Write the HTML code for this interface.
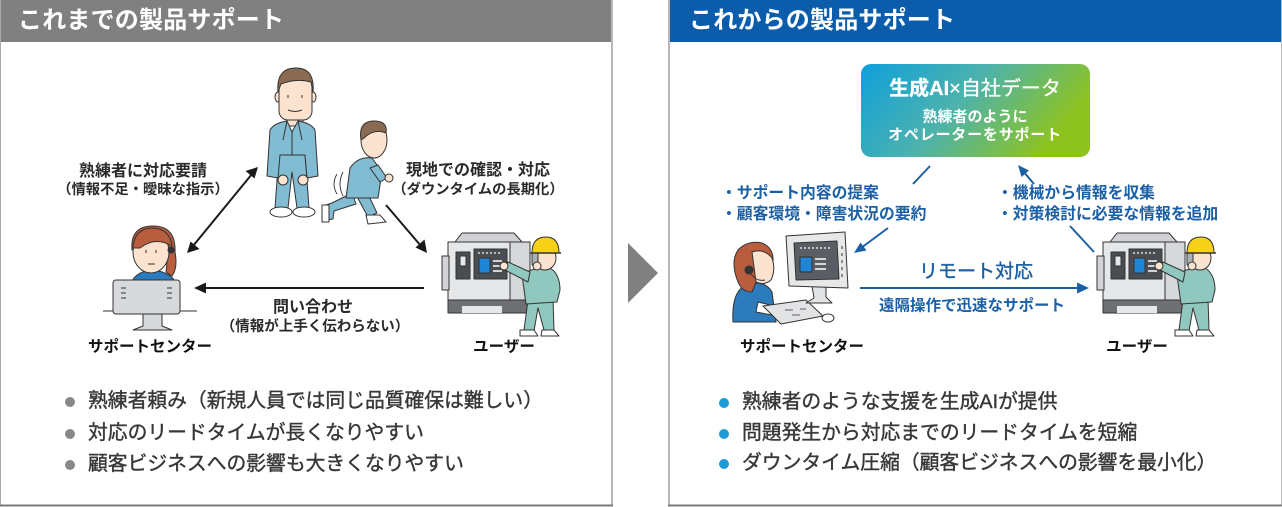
<!DOCTYPE html>
<html><head><meta charset="utf-8">
<style>
html,body{margin:0;padding:0;}
body{width:1282px;height:507px;position:relative;overflow:hidden;background:#fff;font-family:"Liberation Sans","Noto Sans CJK JP",sans-serif;color:#333;}
svg{position:absolute;left:0;top:0;}
.c{position:absolute;white-space:nowrap;transform:translate(-50%,-50%);line-height:1;}
.l{position:absolute;white-space:nowrap;transform:translateY(-50%);line-height:1;}
.hd{position:absolute;top:0;height:42px;color:#fff;font-size:24px;font-weight:bold;line-height:42px;box-sizing:border-box;letter-spacing:0.2px;}
.b{position:absolute;font-size:19.8px;line-height:1;white-space:nowrap;transform:translateY(-50%);color:#383838;-webkit-text-stroke:0.4px #383838;}
.dot{position:absolute;width:10px;height:10px;border-radius:50%;transform:translate(-50%,-50%);}
.k{font-weight:bold;color:#2a2a2a;}
.bl{color:#1b5fa5;font-weight:bold;}
</style></head><body>

<div class="hd" style="left:0;width:611px;background:#808080;padding-left:18px;">これまでの製品サポート</div>
<div class="hd" style="left:670px;width:612px;background:#0b5dab;padding-left:19px;">これからの製品サポート</div>

<svg width="1282" height="507" viewBox="0 0 1282 507">
<defs>
 <linearGradient id="g" x1="0" y1="0" x2="1" y2="0.35">
  <stop offset="0" stop-color="#0ea0dc"/>
  <stop offset="0.5" stop-color="#4cb2ad"/>
  <stop offset="1" stop-color="#8ec31f"/>
 </linearGradient>
 <g id="mw" stroke="#333" stroke-width="1" stroke-linejoin="round">
  <path d="M455 242 L462 233 L514 233 L522 242 Z" fill="#cfd1d4"/>
  <rect x="448" y="242" width="82" height="60" fill="#e6e7e9"/>
  <rect x="510" y="242" width="20" height="60" fill="#d6d8db"/>
  <rect x="442" y="256" width="7" height="34" fill="#d2d4d7"/>
  <rect x="448" y="300" width="82" height="13" fill="#6e7074"/>
  <rect x="462" y="306" width="40" height="7" fill="#e6e7e9" stroke="none"/>
  <rect x="456" y="252" width="14" height="27" fill="#4a4d52"/>
  <rect x="460" y="256" width="6" height="10" fill="#e6e7e9"/>
  <rect x="474" y="249" width="33" height="30" fill="#4a4d52"/>
  <rect x="479" y="258" width="11" height="15" fill="#1e86d4"/>
  <path d="M493 261h9M493 266h9M493 271h9" stroke="#fff" stroke-width="1.5"/>
  <path d="M478 253h24" stroke="#ddd" stroke-width="1.5" stroke-dasharray="2 2"/>
  <path d="M528 300 L524 330 L534 331 L538 308 L544 330 L554 330 L553 298 Z" fill="#90c7be"/>
  <path d="M520 330 h14 l4 6 h-18z M542 330 h12 l5 6 h-18z" fill="#fff"/>
  <path d="M522 275 Q535 266 550 268 Q560 274 560 290 L557 302 L526 304 Z" fill="#90c7be"/>
  <path d="M530 272 L508 262 L505 270 L528 282 Z" fill="#90c7be"/>
  <circle cx="504" cy="266" r="4" fill="#fbe3cf"/>
  <ellipse cx="545" cy="258" rx="11" ry="12" fill="#fbe3cf"/>
  <rect x="532" y="252" width="6" height="14" rx="2" fill="#aab0b8"/>
  <circle cx="537" cy="266" r="4" fill="#fbe3cf"/>
  <path d="M532 253 Q532 237 546 237 Q559 237 559 253 Z" fill="#f7d117"/>
  <path d="M530 253 h31" stroke-width="1.5"/>
 </g>
</defs>

<line x1="0.5" y1="0" x2="0.5" y2="506" stroke="#aaa" stroke-width="1"/>
<line x1="612" y1="0" x2="612" y2="506" stroke="#b8b8b8" stroke-width="2"/>
<line x1="669" y1="0" x2="669" y2="506" stroke="#b8b8b8" stroke-width="2"/>
<line x1="1281.5" y1="0" x2="1281.5" y2="506" stroke="#b8b8b8" stroke-width="1"/>
<line x1="0" y1="505.5" x2="613" y2="505.5" stroke="#7a7a7a" stroke-width="2"/>
<line x1="668" y1="505.5" x2="1282" y2="505.5" stroke="#7a7a7a" stroke-width="2"/>

<polygon points="628,243 658,273 628,303" fill="#808080"/>

<!-- standing man -->
<g stroke="#333" stroke-width="1" stroke-linejoin="round">
 <path d="M279 153 L305 153 L309 208 L297 208 L292 172 L288 208 L275 208 Z" fill="#82bcd3"/>
 <ellipse cx="281" cy="212" rx="11" ry="5" fill="#fff"/>
 <ellipse cx="304" cy="212" rx="11" ry="5" fill="#fff"/>
 <rect x="287" y="114" width="16" height="12" fill="#fbe3cf"/>
 <path d="M270 130 Q274 123 287 121 L292 132 L298 121 Q311 123 315 130 L318 176 L307 178 L305 155 L280 155 L278 178 L267 176 Z" fill="#82bcd3"/>
 <path d="M287 121 L283 140 M298 121 L302 140 M292 132 L292 155" fill="none"/>
 <circle cx="283" cy="180" r="5" fill="#fbe3cf"/>
 <circle cx="303" cy="180" r="5" fill="#fbe3cf"/>
 <ellipse cx="278" cy="97" rx="3" ry="5" fill="#fbe3cf"/>
 <ellipse cx="313" cy="97" rx="3" ry="5" fill="#fbe3cf"/>
 <rect x="279" y="72" width="33" height="48" rx="9" fill="#fbe3cf"/>
 <path d="M278 92 Q276 68 296 68 Q315 68 313 92 L311 82 Q297 78 281 84 Z" fill="#8a6a50"/>
 <path d="M288 95 v3 M302 95 v3 M288 110 q7 3 14 0" fill="none"/>
</g>
<!-- running man -->
<g stroke="#333" stroke-width="1" stroke-linejoin="round">
 <path d="M352 193 L332 203 L326 205 L326 220 L333 219 L334 211 L356 204 Z" fill="#82bcd3"/>
 <rect x="322" y="205" width="7" height="17" fill="#fff"/>
 <path d="M355 193 L368 217 L377 213 L366 190 Z" fill="#82bcd3"/>
 <path d="M366 215 L380 215 L386 222 L368 224 Z" fill="#fff"/>
 <path d="M350 168 Q358 156 372 158 L382 172 L378 198 L346 198 Z" fill="#82bcd3"/>
 <path d="M370 168 L380 182 L387 178 L378 165 Z" fill="#82bcd3"/>
 <circle cx="389" cy="178" r="4" fill="#fbe3cf"/>
 <ellipse cx="374" cy="140" rx="13" ry="18" fill="#fbe3cf"/>
 <path d="M361 140 Q358 121 374 121 Q388 121 386 133 Q374 128 364 138 Z" fill="#8a6a50"/>
 <path d="M337 174 q-6 10 0 20 M343 172 q-6 12 0 24" fill="none" stroke-width="0.9"/>
</g>
<!-- support center woman -->
<g stroke="#333" stroke-width="1" stroke-linejoin="round">
 <line x1="103" y1="311" x2="197" y2="311"/>
 <path d="M130 288 Q132 272 152 270 Q174 272 178 288 Z" fill="#2b7bbd"/>
 <path d="M132 250 Q130 226 153 226 Q176 226 175 252 Q178 268 172 276 L166 272 L168 252 Z" fill="#b85d3e"/>
 <ellipse cx="151" cy="252" rx="18" ry="21" fill="#fbe3cf"/>
 <path d="M133 248 Q134 228 153 228 Q170 229 172 246 Q155 236 140 248 Z" fill="#b85d3e"/>
 <circle cx="171" cy="250" r="3" fill="#333"/>
 <path d="M146 250 v3 M156 250 v3 M148 264 h7" fill="none"/>
 <rect x="113" y="280" width="67" height="34" rx="3" fill="#d7d9dc"/>
 <path d="M121 288h5M121 293h5M121 298h5M167 288h5M167 293h5M167 298h5" fill="none"/>
 <path d="M143 314 L143 326 L133 330 L172 330 L162 326 L162 314 Z" fill="#d7d9dc"/>
</g>
<use href="#mw"/>

<g stroke="#1a1a1a" stroke-width="2" fill="#1a1a1a">
 <line x1="252" y1="174" x2="193" y2="246"/>
 <polygon points="258,167 245.5,171 254.5,178.5" stroke="none"/>
 <polygon points="187,253 199.5,249 190.5,241.5" stroke="none"/>
 <line x1="386" y1="205" x2="421" y2="246"/>
 <polygon points="427,253 415.5,247.5 424.5,239.5" stroke="none"/>
 <line x1="424" y1="288" x2="203" y2="288"/>
 <polygon points="194,288 206,282.5 206,293.5" stroke="none"/>
</g>

<rect x="861" y="64" width="229" height="93" rx="10" fill="url(#g)"/>

<!-- right woman at desk -->
<g stroke="#333" stroke-width="1" stroke-linejoin="round">
 <path d="M733 322 Q731 290 748 284 Q765 280 772 292 L776 322 Z" fill="#2b7bbd"/>
 <path d="M738 282 Q730 262 738 250 Q748 240 762 243 Q774 248 773 262 L766 258 L752 292 Q742 292 738 282 Z" fill="#b85d3e"/>
 <path d="M752 252 Q764 248 772 258 Q776 270 771 280 Q764 286 756 282 Z" fill="#fbe3cf"/>
 <circle cx="749" cy="270" r="4" fill="#333"/>
 <path d="M751 274 q6 8 14 6" fill="none"/>
 <path d="M758 302 L790 310 L788 318 L756 312 Z" fill="#fff"/>
 <path d="M763 306 L806 300 L823 316 L781 324 Z" fill="#e2e3e5"/>
 <path d="M785 310h8M792 315h8M800 309h6" fill="none" stroke-width="0.8"/>
 <ellipse cx="828" cy="318" rx="6" ry="4" fill="#fff"/>
 <path d="M812 286 L814 298 L806 303 L832 303 L826 297 L826 286 Z" fill="#e2e3e5"/>
 <path d="M786 236 L845 232 L848 288 L789 286 Z" fill="#e6e7e9"/>
 <path d="M794 243 L837 241 L839 279 L796 280 Z" fill="#5a5e64"/>
 <rect x="800" y="257" width="12" height="15" fill="#1e86d4"/>
 <path d="M815 259h11M815 264h11M815 269h11" stroke="#fff" stroke-width="1.5"/>
 <path d="M800 248h30" stroke="#ddd" stroke-width="1.5" stroke-dasharray="2 2"/>
 <path d="M842 246v3M842 253v3M842 260v3M842 267v3M842 274v3" fill="none"/>
</g>
<use href="#mw" transform="translate(655,0)"/>

<g stroke="#1b5fa5" stroke-width="2" fill="#1b5fa5">
 <line x1="930" y1="166" x2="913" y2="184"/>
 <line x1="888" y1="228" x2="861" y2="248"/>
 <polygon points="854,253 860.5,242.5 866.5,250.5" stroke="none"/>
 <line x1="1034" y1="184" x2="1023" y2="171"/>
 <polygon points="1018,165 1029,170.5 1021.5,177" stroke="none"/>
 <line x1="1070" y1="226" x2="1094" y2="252"/>
 <line x1="860" y1="288" x2="1079" y2="288"/>
 <polygon points="1089,288 1077,282.5 1077,293.5" stroke="none"/>
</g>
</svg>

<div class="c k" style="left:143px;top:172px;font-size:16px;">熟練者に対応要請</div>
<div class="c k" style="left:143px;top:190px;font-size:14.3px;">（情報不足・曖昧な指示）</div>
<div class="c k" style="left:478px;top:171px;font-size:16px;">現地での確認・対応</div>
<div class="c k" style="left:478px;top:190px;font-size:14.3px;">（ダウンタイムの長期化）</div>
<div class="c k" style="left:313px;top:308px;font-size:16px;">問い合わせ</div>
<div class="c k" style="left:315px;top:327px;font-size:14.5px;">（情報が上手く伝わらない）</div>
<div class="c k" style="left:150px;top:347px;font-size:15.5px;color:#111;">サポートセンター</div>
<div class="c k" style="left:504px;top:347px;font-size:15.5px;color:#111;">ユーザー</div>

<div class="c" style="left:975px;top:89px;font-size:20px;color:#fff;-webkit-text-stroke:0.3px #fff;"><b>生成AI</b>×自社データ</div>
<div class="c" style="left:975px;top:117px;font-size:15px;color:#fff;font-weight:bold;">熟練者のように</div>
<div class="c" style="left:975px;top:135px;font-size:15px;color:#fff;font-weight:bold;letter-spacing:0.8px;">オペレーターをサポート</div>

<div class="l bl" style="left:721px;top:194px;font-size:15.8px;">・サポート内容の提案</div>
<div class="l bl" style="left:721px;top:215px;font-size:15.8px;">・顧客環境・障害状況の要約</div>
<div class="l bl" style="left:997px;top:194px;font-size:15.8px;">・機械から情報を収集</div>
<div class="l bl" style="left:997px;top:215px;font-size:15.8px;">・対策検討に必要な情報を追加</div>
<div class="c" style="left:976px;top:272px;font-size:19px;color:#1b5fa5;-webkit-text-stroke:0.4px #1b5fa5;">リモート対応</div>
<div class="c bl" style="left:972px;top:306px;font-size:15.5px;">遠隔操作で迅速なサポート</div>
<div class="c k" style="left:802px;top:347px;font-size:15.5px;color:#111;">サポートセンター</div>
<div class="c k" style="left:1137px;top:347px;font-size:15.5px;color:#111;">ユーザー</div>

<div class="dot" style="left:70px;top:402px;background:#888;"></div>
<div class="b" style="left:88px;top:402px;">熟練者頼み（新規人員では同じ品質確保は難しい）</div>
<div class="dot" style="left:70px;top:434px;background:#888;"></div>
<div class="b" style="left:88px;top:434px;">対応のリードタイムが長くなりやすい</div>
<div class="dot" style="left:70px;top:465px;background:#888;"></div>
<div class="b" style="left:88px;top:465px;">顧客ビジネスへの影響も大きくなりやすい</div>

<div class="dot" style="left:724px;top:403px;background:#1e9bd7;"></div>
<div class="b" style="left:742px;top:403px;">熟練者のような支援を生成AIが提供</div>
<div class="dot" style="left:724px;top:434px;background:#1e9bd7;"></div>
<div class="b" style="left:742px;top:434px;">問題発生から対応までのリードタイムを短縮</div>
<div class="dot" style="left:724px;top:464px;background:#1e9bd7;"></div>
<div class="b" style="left:742px;top:464px;">ダウンタイム圧縮（顧客ビジネスへの影響を最小化）</div>

</body></html>
